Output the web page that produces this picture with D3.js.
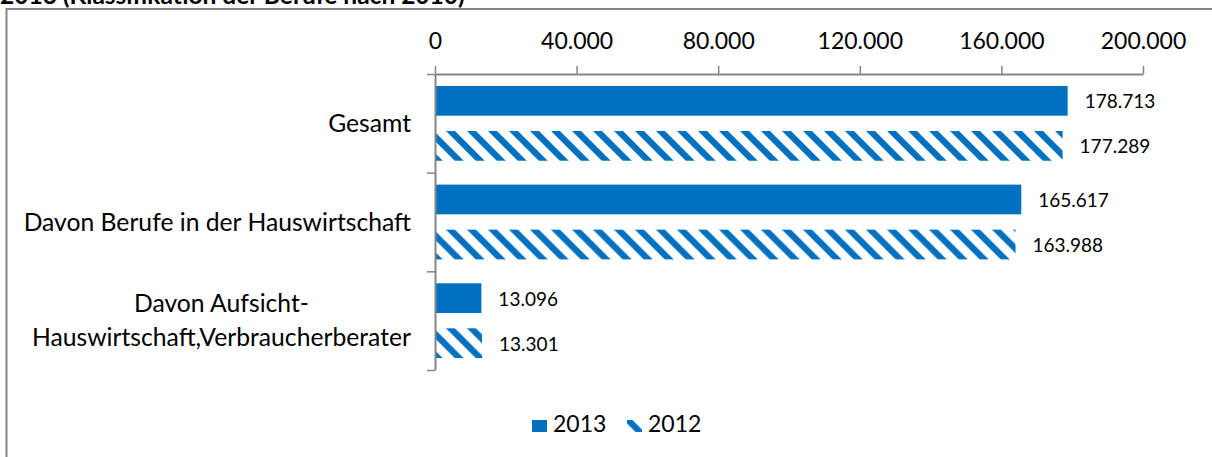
<!DOCTYPE html>
<html>
<head>
<meta charset="utf-8">
<script src="https://cdn.jsdelivr.net/npm/d3@7"></script>
<style>
  html, body { margin: 0; padding: 0; background: #fff; overflow: hidden; }
  svg { display: block; font-family: Lato, "Open Sans", sans-serif; }
</style>
</head>
<body>
<svg id="chart" width="1212" height="457"></svg>
<script>
// Beschäftigte in Berufen der Hauswirtschaft, 2013 gegenüber 2012
const categories = [
  "Gesamt",
  "Davon Berufe in der Hauswirtschaft",
  "Davon Aufsicht-Hauswirtschaft,Verbraucherberater"
];
const seriesNames = ["2013", "2012"];
const values2013 = [178713, 165617, 13096];
const values2012 = [177289, 163988, 13301];
const xTicks = [0, 40000, 80000, 120000, 160000, 200000];
const titleText = "2013 (Klassifikation der Berufe nach 2010)";

const blue = "#0070c0";
const gray = "#868686";

const de = d3.formatLocale({ decimal: ",", thousands: ".", grouping: [3], currency: ["", " €"] });
const fmt = de.format(",");

const svg = d3.select("#chart");
const W = 1212, H = 457;

// Plot area
const plot = { left: 435, right: 1143, top: 74, bottom: 370 };

const x = d3.scaleLinear().domain([0, 200000]).range([plot.left, plot.right]);
const y0 = d3.scaleBand().domain(categories).range([plot.top, plot.bottom]).paddingInner(0).paddingOuter(0);
const y1 = d3.scaleBand().domain(seriesNames).range([0, y0.bandwidth()]).paddingInner(0.34).paddingOuter(0.265);

// Diagonal hatch for the 2012 series
const defs = svg.append("defs");
function hatch(id, offset) {
  const p = defs.append("pattern")
    .attr("id", id)
    .attr("patternUnits", "userSpaceOnUse")
    .attr("x", offset).attr("y", 0)
    .attr("width", 21).attr("height", 21);
  p.append("rect").attr("width", 21).attr("height", 21).attr("fill", "#fff");
  p.append("path").attr("fill", blue).attr("d", "M0,0L9,0L21,12L21,21Z M0,12L9,21L0,21Z");
}
hatch("hatch2012", 11);
hatch("hatchKey", 14.5);

const fillFor = s => s === "2013" ? blue : "url(#hatch2012)";

// Title (upper part runs above the page)
svg.append("text")
  .attr("x", 0).attr("y", 4)
  .attr("font-size", 24.5).attr("font-weight", "bold").attr("fill", "#000")
  .text(titleText);

// Chart frame
svg.append("rect")
  .attr("x", 6.5).attr("y", 9)
  .attr("width", W + 20).attr("height", H + 20)
  .attr("fill", "none").attr("stroke", gray).attr("stroke-width", 2);

// Bars
const rows = categories.map((c, i) => ({
  category: c,
  items: [
    { series: "2013", value: values2013[i] },
    { series: "2012", value: values2012[i] }
  ]
}));

const groups = svg.append("g").selectAll("g")
  .data(rows).join("g")
  .attr("transform", d => `translate(0,${y0(d.category)})`);

groups.selectAll("rect")
  .data(d => d.items).join("rect")
  .attr("x", x(0))
  .attr("y", d => y1(d.series))
  .attr("width", d => x(d.value) - x(0))
  .attr("height", y1.bandwidth())
  .attr("fill", d => fillFor(d.series));

groups.selectAll("text.value")
  .data(d => d.items).join("text")
  .attr("class", "value")
  .attr("x", d => x(d.value) + 17)
  .attr("y", d => y1(d.series) + y1.bandwidth() / 2 + 7.5)
  .attr("font-size", 19).attr("fill", "#000")
  .text(d => fmt(d.value));

// Value axis on top
const xAxis = svg.append("g")
  .attr("transform", `translate(0,${plot.top})`)
  .call(d3.axisTop(x).tickValues(xTicks).tickSize(8).tickSizeOuter(0).tickPadding(17.5).tickFormat(fmt));
xAxis.select(".domain").attr("stroke", gray).attr("stroke-width", 2);
xAxis.selectAll(".tick line").attr("stroke", gray).attr("stroke-width", 1.5);
xAxis.selectAll(".tick text").attr("font-size", 23).attr("fill", "#000").attr("font-family", "Lato, sans-serif");

// Category axis with ticks between the groups
const yEdge = d3.scaleLinear().domain([0, categories.length]).range([plot.top, plot.bottom]);
const yAxis = svg.append("g")
  .attr("transform", `translate(${plot.left},0)`)
  .call(d3.axisLeft(yEdge).tickValues(d3.range(categories.length + 1)).tickSize(8).tickSizeOuter(0).tickFormat(""));
yAxis.select(".domain").attr("stroke", gray).attr("stroke-width", 2);
yAxis.selectAll(".tick line").attr("stroke", gray).attr("stroke-width", 1.5);

// Category labels, wrapped after hyphens when too wide, lines centred
const labelRight = 411, maxLabel = 400, lineH = 34, catSize = 24.7;
const labels = svg.append("g").attr("font-size", catSize).attr("fill", "#000");
categories.forEach(c => {
  const t = labels.append("text");
  const probe = t.text(c);
  let lines = [c];
  if (probe.node().getComputedTextLength() > maxLabel) {
    const cut = c.indexOf("-") >= 0 ? c.indexOf("-") + 1 : c.lastIndexOf(" ");
    lines = [c.slice(0, cut).trim(), c.slice(cut).trim()];
  }
  t.text(null);
  const widths = lines.map(l => {
    const m = labels.append("text").text(l);
    const w = m.node().getComputedTextLength();
    m.remove();
    return w;
  });
  const wMax = d3.max(widths);
  const cx = labelRight - wMax / 2;
  const mid = y0(c) + y0.bandwidth() / 2;
  const first = mid - (lines.length - 1) * lineH / 2 + 8.5;
  t.attr("text-anchor", "middle");
  lines.forEach((l, i) => {
    t.append("tspan").attr("x", cx).attr("y", first + i * lineH).text(l);
  });
});

// Legend
const legend = svg.append("g").attr("font-size", 23).attr("fill", "#000");
const keys = [
  { name: "2013", x: 532, fill: blue },
  { name: "2012", x: 627, fill: "url(#hatchKey)" }
];
keys.forEach(k => {
  legend.append("rect").attr("x", k.x).attr("y", 420).attr("width", 15).attr("height", 12).attr("fill", k.fill);
  legend.append("text").attr("x", k.x + 21).attr("y", 432).text(k.name);
});
</script>
</body>
</html>
